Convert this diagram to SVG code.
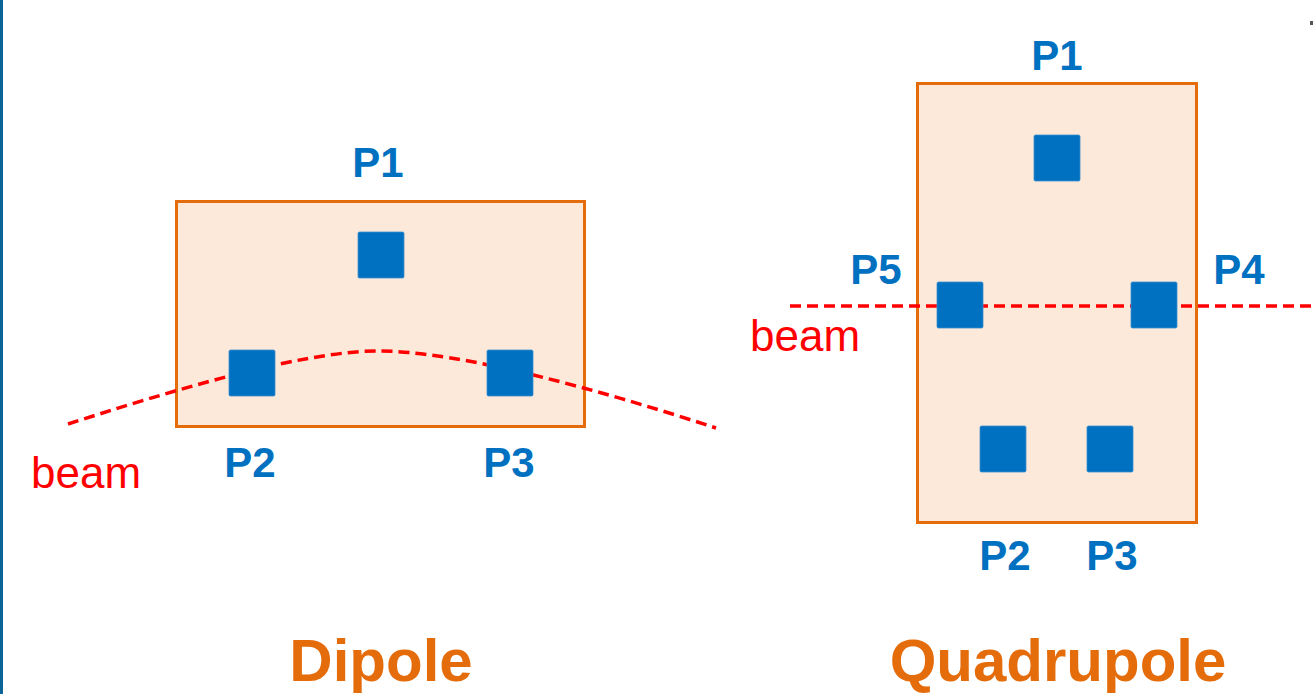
<svg xmlns="http://www.w3.org/2000/svg" width="1313" height="694" viewBox="0 0 1313 694">
<style>
.box{fill:#fce9da;stroke:#e46c0a;stroke-width:3}
.mag{fill:#0070c0;stroke:#3a8fd0;stroke-width:0.8}
.lbl{font-family:"Liberation Sans",Arial,sans-serif;font-weight:bold;font-size:42px;fill:#0070c0;text-anchor:middle}
.beamtxt{font-family:"Liberation Sans",Arial,sans-serif;font-size:44px;fill:#ff0000}
.title{font-family:"Liberation Sans",Arial,sans-serif;font-weight:bold;font-size:60px;fill:#e46c0a;text-anchor:middle}
.beam{fill:none;stroke:#ff0000;stroke-width:3.5;stroke-dasharray:11 6}
</style>
<rect x="0" y="0" width="1313" height="694" fill="#ffffff"/>
<rect x="0" y="0" width="3" height="694" fill="#0b6497"/>
<rect x="1310" y="21" width="3" height="4" fill="#555"/>

<rect class="box" x="176.5" y="201.5" width="408" height="225"/>
<rect class="box" x="917.5" y="83.5" width="279" height="439"/>

<g id="connectors">
  <path class="beam" d="M68,424 C165,393 300,351 378,351 C460,351 600,390 716,428"/>
  <path class="beam" d="M790,306 L1313,306"/>
</g>

<g id="dipole">
  <g id="dipole-P1"><rect class="mag" x="358" y="232" width="46" height="46" rx="1.5"/><text class="lbl" x="378" y="177">P1</text></g>
  <g id="dipole-P2"><rect class="mag" x="229" y="350" width="46" height="46" rx="1.5"/><text class="lbl" x="250" y="477">P2</text></g>
  <g id="dipole-P3"><rect class="mag" x="487" y="350" width="46" height="46" rx="1.5"/><text class="lbl" x="509" y="477">P3</text></g>
  <text class="beamtxt" x="31" y="488">beam</text>
  <text class="title" x="381" y="681">Dipole</text>
</g>

<g id="quadrupole">
  <g id="quad-P1"><rect class="mag" x="1034" y="135" width="46" height="46" rx="1.5"/><text class="lbl" x="1057" y="70">P1</text></g>
  <g id="quad-P5"><rect class="mag" x="937" y="282" width="46" height="46" rx="1.5"/><text class="lbl" x="876" y="284">P5</text></g>
  <g id="quad-P4"><rect class="mag" x="1131" y="282" width="46" height="46" rx="1.5"/><text class="lbl" x="1239" y="284">P4</text></g>
  <g id="quad-P2"><rect class="mag" x="980" y="426" width="46" height="46" rx="1.5"/><text class="lbl" x="1005" y="570">P2</text></g>
  <g id="quad-P3"><rect class="mag" x="1087" y="426" width="46" height="46" rx="1.5"/><text class="lbl" x="1112" y="570">P3</text></g>
  <text class="beamtxt" x="750" y="351">beam</text>
  <text class="title" x="1058" y="681">Quadrupole</text>
</g>
</svg>
